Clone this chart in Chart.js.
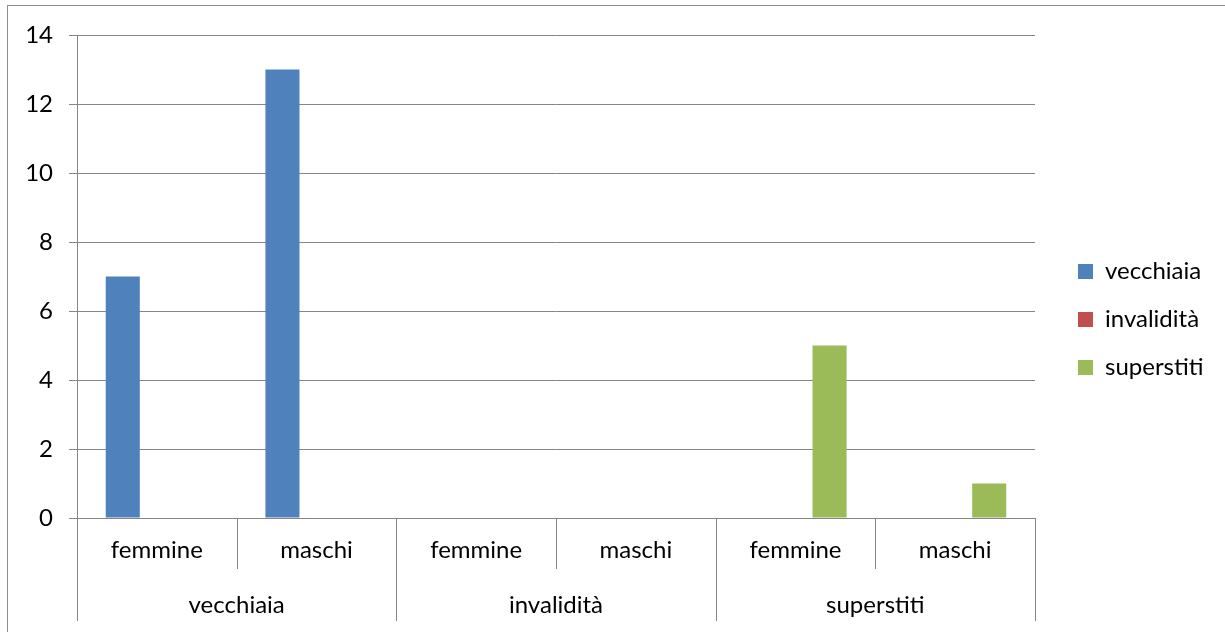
<!DOCTYPE html>
<html>
<head>
<meta charset="utf-8">
<script src="https://cdn.jsdelivr.net/npm/chart.js@4/dist/chart.umd.min.js"></script>
<style>
    html, body { margin: 0; padding: 0; background: #ffffff; }
    #wrap { width: 1225px; height: 632px; position: relative; }
</style>
</head>
<body>
<div id="wrap"><canvas id="chart" width="1225" height="632"></canvas></div>
<script>
// categories (two levels)
const groups = ['vecchiaia', 'invalidità', 'superstiti'];
const subCategories = ['femmine', 'maschi'];
const labels = ['femmine', 'maschi', 'femmine', 'maschi', 'femmine', 'maschi'];

// series values
const vecchiaiaValues = [7, 13, 0, 0, 0, 0];
const invaliditaValues = [0, 0, 0, 0, 0, 0];
const superstitiValues = [0, 0, 0, 0, 5, 1];

// y ticks
const yTicks = [0, 2, 4, 6, 8, 10, 12, 14];

const gridColor = '#868686';
const fontFamily = 'Lato, "Open Sans", sans-serif';

// outer frame, drawn before everything
const framePlugin = {
    id: 'frame',
    beforeDraw(chart) {
        const ctx = chart.ctx;
        ctx.save();
        ctx.strokeStyle = '#8c8c8c';
        ctx.lineWidth = 1;
        ctx.strokeRect(7.5, 5.5, 1400, 800);
        ctx.restore();
    }
};

// multi level category axis: separators and group labels
const groupAxisPlugin = {
    id: 'groupAxis',
    afterLayout(chart) {
        // nudge the legend to where the reference has it
        const lg = chart.legend;
        lg.left += 19;
        lg.right += 19;
        lg.top -= 14;
        lg.bottom -= 14;
    },
    afterDraw(chart) {
        const ctx = chart.ctx;
        const x = chart.scales.x;
        const top = x.top;
        const n = labels.length;
        const edge = i => {
            if (i === 0) return x.left;
            if (i === n) return x.right;
            return (x.getPixelForValue(i - 1) + x.getPixelForValue(i)) / 2;
        };
        ctx.save();
        ctx.strokeStyle = gridColor;
        ctx.lineWidth = 1;
        for (let i = 0; i <= n; i++) {
            const px = Math.round(edge(i)) + 0.5;
            const isGroupEdge = i % subCategories.length === 0;
            ctx.beginPath();
            ctx.moveTo(px, top);
            ctx.lineTo(px, isGroupEdge ? top + 103 : top + 51);
            ctx.stroke();
        }
        ctx.fillStyle = '#000000';
        ctx.font = '24px ' + fontFamily;
        ctx.textAlign = 'center';
        ctx.textBaseline = 'middle';
        groups.forEach((g, gi) => {
            const a = edge(gi * subCategories.length);
            const b = edge((gi + 1) * subCategories.length);
            ctx.fillText(g, (a + b) / 2, top + 87);
        });
        ctx.restore();
    }
};

const ctx = document.getElementById('chart').getContext('2d');
const chart = new Chart(ctx, {
    type: 'bar',
    data: {
        labels: labels,
        datasets: [{
            label: 'vecchiaia',
            data: vecchiaiaValues,
            backgroundColor: '#4F81BD'
        }, {
            label: 'invalidità',
            data: invaliditaValues,
            backgroundColor: '#C0504D'
        }, {
            label: 'superstiti',
            data: superstitiValues,
            backgroundColor: '#9BBB59'
        }]
    },
    options: {
        responsive: false,
        animation: false,
        datasets: {
            bar: {
                barPercentage: 1,
                categoryPercentage: 0.64,
                borderWidth: 0
            }
        },
        layout: {
            padding: { top: 35, left: 0, right: 0, bottom: 0 }
        },
        plugins: {
            title: { display: false },
            tooltip: { enabled: false },
            legend: {
                display: true,
                position: 'right',
                labels: {
                    boxWidth: 15,
                    boxHeight: 15,
                    padding: 24,
                    color: '#000000',
                    font: { family: fontFamily, size: 24 }
                }
            }
        },
        scales: {
            y: {
                min: 0,
                max: 14,
                afterFit(scale) { scale.width = 77; },
                afterBuildTicks(scale) {
                    scale.ticks = yTicks.map(v => ({ value: v }));
                },
                ticks: {
                    color: '#000000',
                    padding: 16,
                    font: { family: fontFamily, size: 24 }
                },
                grid: {
                    color: gridColor,
                    tickLength: 8,
                    drawTicks: true
                },
                border: { display: true, color: gridColor }
            },
            x: {
                afterFit(scale) { scale.height = 114; },
                ticks: {
                    color: '#000000',
                    padding: 18,
                    maxRotation: 0,
                    autoSkip: false,
                    font: { family: fontFamily, size: 24 }
                },
                grid: { display: false, drawTicks: false },
                border: { display: true, color: gridColor }
            }
        }
    },
    plugins: [framePlugin, groupAxisPlugin]
});

// fixed legend width so that the plot ends where the reference does
const origFit = chart.legend.fit;
chart.legend.fit = function () {
    origFit.call(this);
    this.width = 190;
};
chart.update();
</script>
</body>
</html>
